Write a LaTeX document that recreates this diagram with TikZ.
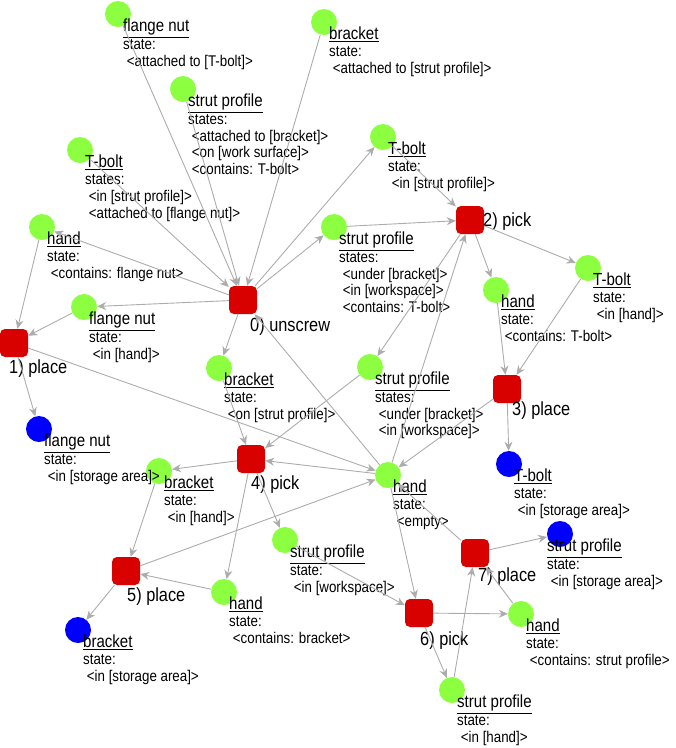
\documentclass[tikz,border=0pt]{standalone}
\usepackage{fontspec}
\setmainfont{Liberation Sans}
\usetikzlibrary{arrows.meta}
\tikzset{
  % object states
  objnode/.style = {circle, minimum size = 26pt, inner sep = 0},
  live/.style = {objnode, fill = green!60!yellow!75},
  stored/.style = {objnode, fill = blue},
  % actions
  act/.style = {rectangle, rounded corners = 5pt, fill = red!85!black,
    minimum size = 28pt, inner sep = 0},
  actlabel/.style = {font = \fontsize{19}{21}\selectfont, inner sep = 0},
  desc/.style = {inner sep = 0, anchor = north west,
    font = \fontsize{15.5}{16.8}\selectfont},
  flow/.style = {draw = gray!65, line width = 0.9pt,
    -{Stealth[length = 9pt, width = 8pt]}}
}
\newcommand\objname[1]{{\fontsize{17.5}{17}\selectfont\underline{#1}}}
\newcommand\narrow[1]{\scalebox{0.86}[1]{#1}}
% circle with its text block
\newcommand\thing[6][5pt]{%
  \node[#3] (#2) at (#4) {};
  \node[desc] (#2-l) at ([xshift=#1, yshift=-5pt]#2.center)
    {\narrow{\begin{tabular}{@{}l@{}}\objname{#5}\\#6\end{tabular}}};}

\begin{document}
\begin{tikzpicture}[x=1pt, y=-1pt]
  \useasboundingbox (0,0) rectangle (676,748);

  \thing{fnut-a}{live}{118,14}{flange nut}{state:\\ \ <attached to [T-bolt]>}
  \thing{brk-a}{live}{324,22}{bracket}{state:\\ \ <attached to [strut profile]>}
  \thing{sp-a}{live}{183,89}{strut profile}{states:\\ \ <attached to [bracket]>\\ \ <on [work surface]>\\ \ <contains: T-bolt>}
  \thing{tb-a}{live}{80,150}{T-bolt}{states:\\ \ <in [strut profile]>\\ \ <attached to [flange nut]>}
  \thing{tb-b}{live}{383,137}{T-bolt}{state:\\ \ <in [strut profile]>}
  \thing{hand-a}{live}{42,227}{hand}{state:\\ \ <contains: flange nut>}
  \thing{sp-b}{live}{334,227}{strut profile}{states:\\ \ <under [bracket]>\\ \ <in [workspace]>\\ \ <contains: T-bolt>}
  \thing{fnut-b}{live}{84,307}{flange nut}{state:\\ \ <in [hand]>}
  \thing{hand-b}{live}{496,290}{hand}{state:\\ \ <contains: T-bolt>}
  \thing{tb-c}{live}{588,268}{T-bolt}{state:\\ \ <in [hand]>}
  \thing{brk-b}{live}{219,368}{bracket}{state:\\ \ <on [strut profile]>}
  \thing{sp-c}{live}{370,367}{strut profile}{states:\\ \ <under [bracket]>\\ \ <in [workspace]>}
  \thing{hand-c}{live}{388,475}{hand}{state:\\ \ <empty>}
  \thing{brk-c}{live}{159,471}{bracket}{state:\\ \ <in [hand]>}
  \thing{sp-d}{live}{285,540}{strut profile}{state:\\ \ <in [workspace]>}
  \thing{hand-d}{live}{224,592}{hand}{state:\\ \ <contains: bracket>}
  \thing{hand-e}{live}{521,614}{hand}{state:\\ \ <contains: strut profile>}
  \thing{sp-e}{live}{452,690}{strut profile}{state:\\ \ <in [hand]>}
  \thing{fnut-s}{stored}{39,429}{flange nut}{state:\\ \ <in [storage area]>}
  \thing{tb-s}{stored}{509,464}{T-bolt}{state:\\ \ <in [storage area]>}
  \thing[-13pt]{sp-s}{stored}{560,534}{strut profile}{state:\\ \ <in [storage area]>}
  \thing{brk-s}{stored}{78,630}{bracket}{state:\\ \ <in [storage area]>}

  \node[act] (unscrew) at (243,300) {};
  \node[actlabel, anchor=north west] at (250,318) {\narrow{0) unscrew}};
  \node[act] (place1) at (14,343) {};
  \node[actlabel, anchor=north west] at (9,360) {\narrow{1) place}};
  \node[act] (pick2) at (470,220) {};
  \node[actlabel, anchor=west] at (483,222) {\narrow{2) pick}};
  \node[act] (place3) at (507,389) {};
  \node[actlabel, anchor=north west] at (512,402) {\narrow{3) place}};
  \node[act] (pick4) at (251,459) {};
  \node[actlabel, anchor=north west] at (251,476) {\narrow{4) pick}};
  \node[act] (place5) at (126,571) {};
  \node[actlabel, anchor=north west] at (127,588) {\narrow{5) place}};
  \node[act] (pick6) at (419,613) {};
  \node[actlabel, anchor=north west] at (420,632) {\narrow{6) pick}};
  \node[act] (place7) at (475,553) {};
  \node[actlabel, anchor=north west] at (478,568) {\narrow{7) place}};

  % 0) unscrew
  \foreach \s in {fnut-a, brk-a, sp-a, tb-a, hand-c}
    \draw[flow] (\s) -- (unscrew);
  \foreach \t in {tb-b, hand-a, sp-b, fnut-b, brk-b}
    \draw[flow] (unscrew) -- (\t);
  % 1) place
  \foreach \s in {hand-a, fnut-b}
    \draw[flow] (\s) -- (place1);
  \foreach \t in {fnut-s, hand-c}
    \draw[flow] (place1) -- (\t);
  % 2) pick
  \foreach \s in {tb-b, sp-b, hand-c}
    \draw[flow] (\s) -- (pick2);
  \foreach \t in {hand-b, tb-c, sp-c}
    \draw[flow] (pick2) -- (\t);
  % 3) place
  \foreach \s in {hand-b, tb-c}
    \draw[flow] (\s) -- (place3);
  \foreach \t in {tb-s, hand-c}
    \draw[flow] (place3) -- (\t);
  % 4) pick
  \foreach \s in {brk-b, sp-c, hand-c}
    \draw[flow] (\s) -- (pick4);
  \foreach \t in {brk-c, sp-d, hand-d}
    \draw[flow] (pick4) -- (\t);
  % 5) place
  \foreach \s in {brk-c, hand-d}
    \draw[flow] (\s) -- (place5);
  \foreach \t in {brk-s, hand-c}
    \draw[flow] (place5) -- (\t);
  % 6) pick
  \foreach \s in {sp-d, hand-c}
    \draw[flow] (\s) -- (pick6);
  \foreach \t in {hand-e, sp-e}
    \draw[flow] (pick6) -- (\t);
  % 7) place
  \foreach \s in {sp-e, hand-e}
    \draw[flow] (\s) -- (place7);
  \foreach \t in {sp-s, hand-c}
    \draw[flow] (place7) -- (\t);
\end{tikzpicture}
\end{document}
